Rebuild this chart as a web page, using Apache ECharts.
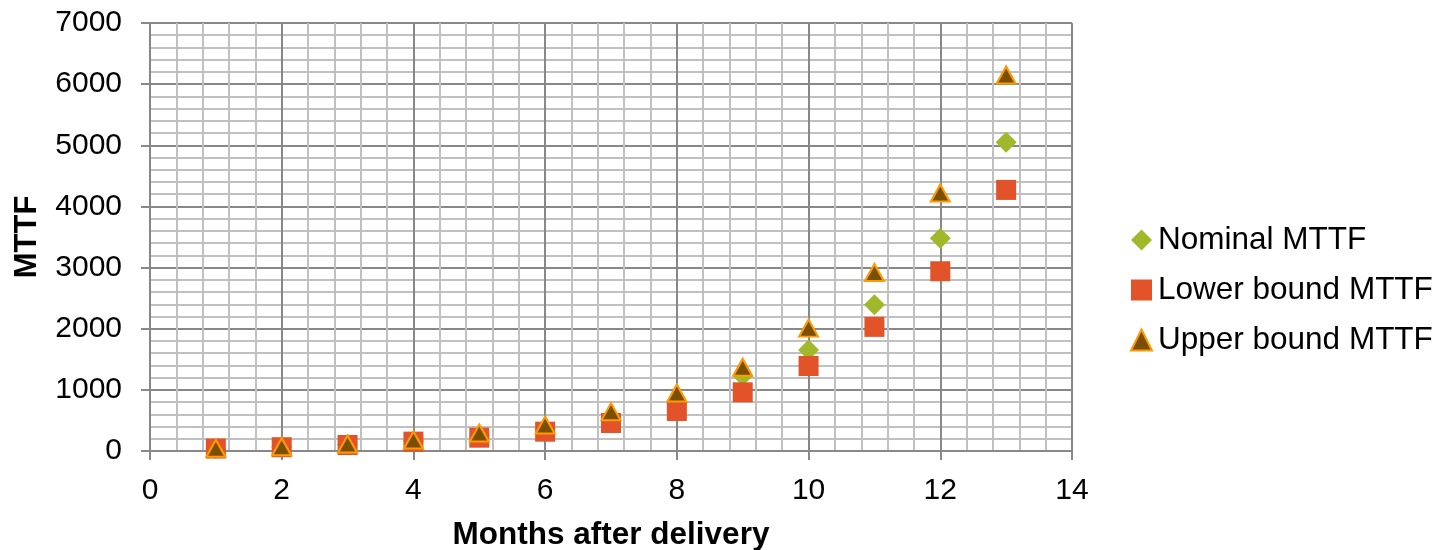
<!DOCTYPE html>
<html>
<head>
<meta charset="utf-8">
<script src="https://cdn.jsdelivr.net/npm/echarts@6/dist/echarts.min.js"></script>
<style>
html,body{margin:0;padding:0;background:#fff;}
#chart{width:1443px;height:550px;}
</style>
</head>
<body>
<div id="chart"></div>
<script>
const months = [1, 2, 3, 4, 5, 6, 7, 8, 9, 10, 11, 12, 13];
const nominal = [42, 66, 105, 165, 255, 370, 540, 790, 1230, 1650, 2390, 3480, 5050];
const lower = [40, 62, 98, 153, 218, 316, 458, 654, 960, 1390, 2030, 2940, 4270];
const upper = [44, 70, 114, 180, 294, 425, 643, 949, 1370, 2010, 2920, 4220, 6150];
const seriesNames = ['Nominal MTTF', 'Lower bound MTTF', 'Upper bound MTTF'];
const xTitle = 'Months after delivery';
const yTitle = 'MTTF';

const FONT = '"Liberation Sans", Arial, sans-serif';
const pairs = (ys) => months.map((m, i) => [m, ys[i]]);

const chart = echarts.init(document.getElementById('chart'), null, {renderer: 'canvas'});
const axisCommon = {
  axisLine: {show: true, onZero: false, lineStyle: {color: '#888888', width: 2}},
  axisTick: {show: true, inside: false, length: 9, lineStyle: {color: '#888888', width: 2}},
  splitLine: {show: true, lineStyle: {color: '#888888', width: 2}},
  minorTick: {show: false, splitNumber: 5},
  minorSplitLine: {show: true, lineStyle: {color: '#c0c0c0', width: 2}},
  nameTextStyle: {fontFamily: FONT, fontWeight: 'bold', fontSize: 31, color: '#000'},
  axisLabel: {fontFamily: FONT, fontSize: 30, color: '#000', formatter: (v) => String(v)}
};
chart.setOption({
  animation: false,
  backgroundColor: '#ffffff',
  grid: {left: 150, right: 371, top: 23, bottom: 99, containLabel: false, outerBoundsMode: 'none'},
  xAxis: Object.assign({}, axisCommon, {
    type: 'value', min: 0, max: 14, interval: 2,
    name: xTitle, nameLocation: 'middle', nameGap: 68,
    nameTextStyle: Object.assign({}, axisCommon.nameTextStyle, {fontSize: 31.5}),
    axisLabel: Object.assign({}, axisCommon.axisLabel, {margin: 25})
  }),
  yAxis: Object.assign({}, axisCommon, {
    type: 'value', min: 0, max: 7000, interval: 1000,
    name: yTitle, nameLocation: 'middle', nameGap: 107, nameRotate: 90,
    axisLabel: Object.assign({}, axisCommon.axisLabel, {margin: 28})
  }),
  legend: {
    orient: 'vertical', left: 1125, top: 219,
    itemWidth: 21, itemHeight: 21, itemGap: 18,
    textStyle: {fontFamily: FONT, fontSize: 31.5, color: '#000', padding: [0, 0, 0, 1]},
    data: [
      {name: seriesNames[0], icon: 'diamond', itemStyle: {opacity: 1}},
      {name: seriesNames[1], icon: 'rect', itemStyle: {opacity: 1}},
      {name: seriesNames[2], icon: 'triangle', itemStyle: {opacity: 1}}
    ]
  },
  series: [
    {name: seriesNames[0], type: 'scatter', data: pairs(nominal), symbol: 'diamond', symbolSize: [21, 21],
     itemStyle: {color: '#a0b82a', opacity: 1}},
    {name: seriesNames[1], type: 'scatter', data: pairs(lower), symbol: 'rect', symbolSize: [20, 20],
     itemStyle: {color: '#e2532a', opacity: 1}},
    {name: seriesNames[2], type: 'scatter', data: pairs(upper), symbol: 'triangle', symbolSize: [19, 17],
     itemStyle: {color: '#7a4f00', borderColor: '#ff9a00', borderWidth: 2, opacity: 1}}
  ]
});
</script>
</body>
</html>
